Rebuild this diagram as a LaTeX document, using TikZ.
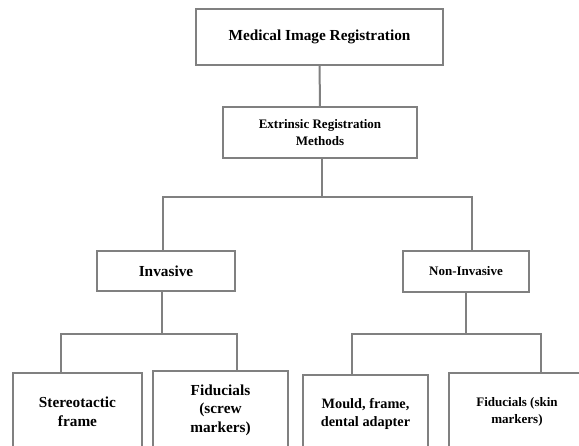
\documentclass[tikz,border=0pt]{standalone}
\usepackage{fontspec}
\setmainfont{Liberation Serif}
\usetikzlibrary{positioning}

\begin{document}
\begin{tikzpicture}[x=1pt,y=-1pt,
	box/.style={draw=gray, line width=2pt, fill=white, align=center, inner sep=0pt},
	link/.style={draw=gray, line width=2pt},
	big/.style={font=\bfseries\fontsize{15.3}{18.5}\selectfont},
	small/.style={font=\bfseries\fontsize{13}{17}\selectfont}]

	\clip (0,0) rectangle (579,446);

	\node[box,big,minimum width=247pt,minimum height=56pt] (mir) at (319.5,37) {Medical Image Registration};
	\node[box,small,minimum width=194pt,minimum height=51pt] (erm) at (320,132.5) {Extrinsic Registration\\Methods};

	\node[box,big,minimum width=138pt,minimum height=40pt] (inv) at (166,271) {Invasive};
	\node[box,small,minimum width=126pt,minimum height=41pt] (non) at (466,271.5) {Non-Invasive};

	\node[box,big,minimum width=129pt,minimum height=78pt] (st) at (77.5,412) {Stereotactic\\frame};
	\node[box,big,minimum width=135pt,minimum height=78pt] (fs) at (220.5,410) {Fiducials\\(screw\\markers)};
	\node[box,font=\bfseries\fontsize{14.3}{17.5}\selectfont,minimum width=125pt,minimum height=78pt] (md) at (365.5,414) {Mould, frame,\\dental adapter};
	\node[box,small,minimum width=136pt,minimum height=78pt] (fk) at (517,412) {Fiducials (skin\\markers)};

	% tree links
	\draw[link] (mir) -- (erm);
	\draw[link] ([xshift=2pt]erm.south) -- ++(0,38) coordinate (j1);
	\draw[link] ([xshift=-3pt]inv.north) |- (j1) -| ([xshift=6pt]non.north);

	\draw[link] ([xshift=-4pt]inv.south) -- ++(0,42) coordinate (j2);
	\draw[link] ([xshift=-16.5pt]st.north) |- (j2) -| ([xshift=16.5pt]fs.north);

	\draw[link] (non.south) -- ++(0,41) coordinate (j3);
	\draw[link] ([xshift=-13.5pt]md.north) |- (j3) -| ([xshift=24pt]fk.north);
\end{tikzpicture}
\end{document}
